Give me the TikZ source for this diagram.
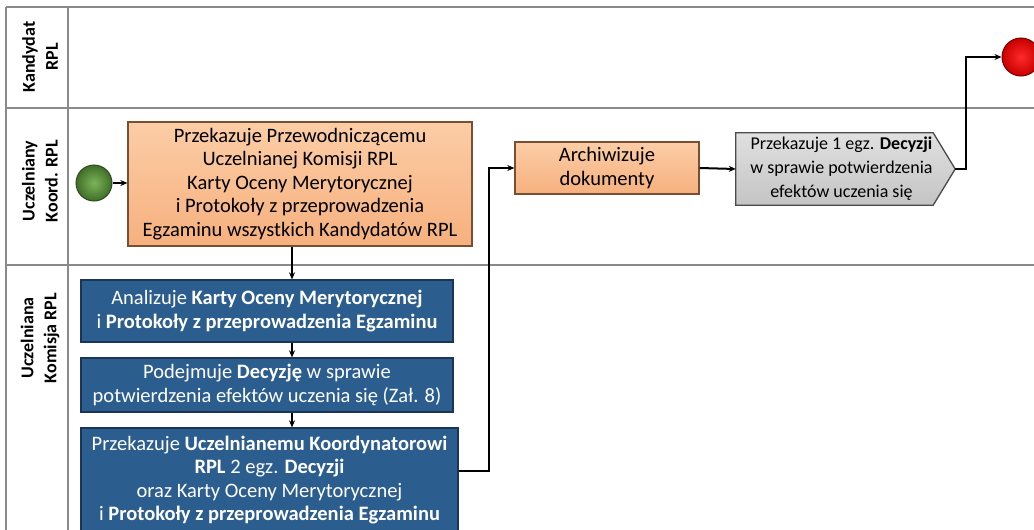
\documentclass[tikz,border=0pt]{standalone}
\usepackage{fontspec}
\setmainfont{Carlito}
\usetikzlibrary{arrows.meta,calc,shadings}
\definecolor{lanegrey}{HTML}{8A8A8A}
\definecolor{orangetop}{HTML}{FCCDA6}
\definecolor{orangebot}{HTML}{F6B07E}
\definecolor{orangeedge}{HTML}{7A4E30}
\definecolor{bluefill}{HTML}{2C5D8F}
\definecolor{blueedge}{HTML}{1A3556}
\definecolor{greytop}{HTML}{E0E0E0}
\definecolor{greybot}{HTML}{C4C4C4}
\definecolor{greyedge}{HTML}{4A4A4A}
\definecolor{greenin}{HTML}{7DB35A}
\definecolor{greenout}{HTML}{3F6E28}
\definecolor{redin}{HTML}{FF2A2A}
\definecolor{redout}{HTML}{C80000}
\tikzset{
  lane/.style={draw=lanegrey, line width=1.5pt},
  lanelabel/.style={rotate=90, font=\fontsize{18}{23}\selectfont\bfseries, align=center, inner sep=0pt},
  boxtext/.style={font=\fontsize{20.5}{23.6}\selectfont, align=center, inner sep=0pt},
  smalltext/.style={font=\fontsize{18}{24}\selectfont, align=center, inner sep=0pt},
  orangebox/.style={boxtext, rectangle, draw=orangeedge, line width=1.3pt,
    top color=orangetop, bottom color=orangebot},
  bluebox/.style={boxtext, rectangle, draw=blueedge, line width=1.3pt,
    fill=bluefill, text=white},
  startev/.style={circle, draw=greenout!70!black, line width=1pt, minimum size=36pt,
    inner color=greenin, outer color=greenout, inner sep=0pt},
  endev/.style={circle, draw=redout!60!black, line width=1pt, minimum size=38pt,
    inner color=redin, outer color=redout, inner sep=0pt},
  flow/.style={line width=2pt, -{Stealth[length=7pt,width=6pt]}},
}
\begin{document}
\begin{tikzpicture}[x=1pt,y=-1pt]
\useasboundingbox (0,0) rectangle (1034,530);
\begin{scope}
\clip (0,0) rectangle (1034,530);

% swimlane frame
\draw[lane] (6,7) -- (1034,7);
\draw[lane] (6,108) -- (1034,108);
\draw[lane] (6,265) -- (1034,265);
\draw[lane] (6,7) -- (6,530);
\draw[lane] (68,7) -- (68,530);

% lane titles
\node[lanelabel] (lcand) at (40,57) {Kandydat\\RPL};
\node[lanelabel] (lkoord) at (40,181) {Uczelniany\\Koord. RPL};
\node[lanelabel] (lkom) at (40,338) {Uczelniana\\Komisja RPL};

% events
\node[startev] (start) at (94,183) {};
\node[endev] (stop) at (1021,57) {};

% coordinator tasks
\node[orangebox, minimum width=344pt, minimum height=124pt] (hand) at (300,184)
  {Przekazuje Przewodniczącemu\\Uczelnianej Komisji RPL\\Karty Oceny Merytorycznej\\i Protokoły z przeprowadzenia\\Egzaminu wszystkich Kandydatów RPL};
\node[orangebox, minimum width=184pt, minimum height=52pt] (arch) at (607,168)
  {Archiwizuje\\dokumenty};

% outgoing message (pentagon)
\node[smalltext, minimum width=197pt, minimum height=72pt] (give) at (834.5,169) {};
\draw[draw=greyedge, line width=1.3pt, top color=greytop, bottom color=greybot]
  (give.north west) -- (give.north east) -- ($(give.east)+(22,0)$) coordinate (givetip)
  -- (give.south east) -- (give.south west) -- cycle;
\node[smalltext] at ($(give.center)+(7,0)$)
  {Przekazuje 1 egz. \textbf{Decyzji}\\w sprawie potwierdzenia\\efektów uczenia się};

% committee tasks
\node[bluebox, minimum width=372pt, minimum height=62pt] (ana) at (267,311)
  {Analizuje \textbf{Karty Oceny Merytorycznej}\\i \textbf{Protokoły z przeprowadzenia Egzaminu}};
\node[bluebox, minimum width=372pt, minimum height=54pt] (dec) at (267,385)
  {Podejmuje \textbf{Decyzję} w sprawie\\potwierdzenia efektów uczenia się (Zał. 8)};
\node[bluebox, minimum width=377pt, minimum height=104pt] (pass) at (269.5,480)
  {Przekazuje \textbf{Uczelnianemu Koordynatorowi}\\\textbf{RPL} 2 egz. \textbf{Decyzji}\\oraz Karty Oceny Merytorycznej\\i \textbf{Protokoły z przeprowadzenia Egzaminu}};

% sequence flows
\draw[flow] (start) -- (hand.west |- start);
\draw[flow] (292,0 |- hand.south) -- (292,0 |- ana.north);
\draw[flow] (292,0 |- ana.south) -- (292,0 |- dec.north);
\draw[flow] (292,0 |- dec.south) -- (292,0 |- pass.north);
\coordinate (up1) at (489,471);
\draw[flow] (pass.east |- up1) -- (up1) -- (up1 |- arch.west) -- (arch.west);
\draw[flow] (arch.east) -- (give.west);
\coordinate (up2) at (966,169);
\draw[flow] (givetip) -- (up2) -- (up2 |- stop.west) -- (stop.west);
\end{scope}
\end{tikzpicture}
\end{document}
